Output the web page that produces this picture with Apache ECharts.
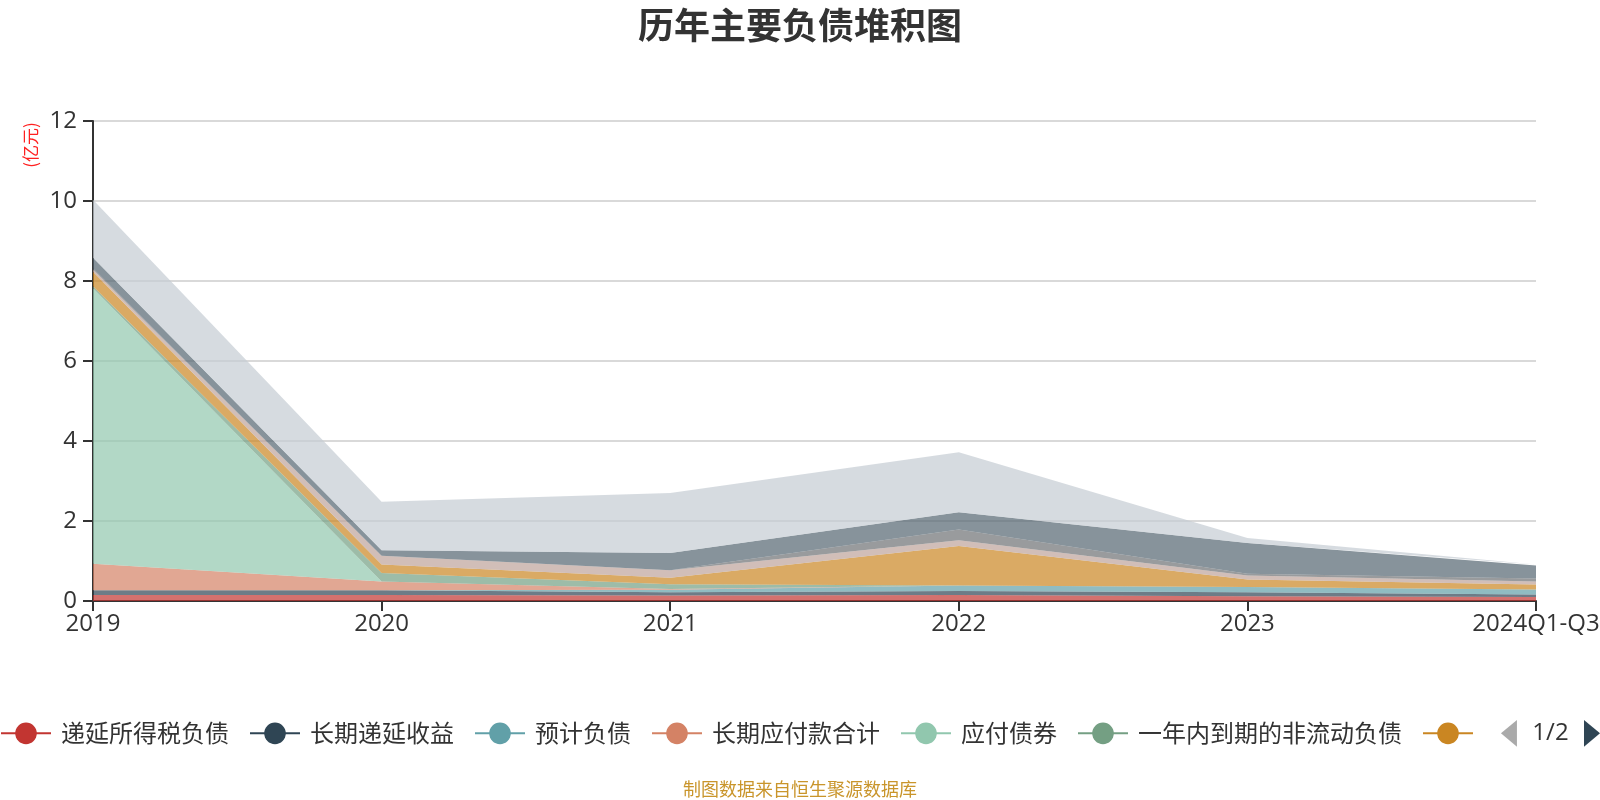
<!DOCTYPE html>
<html>
<head>
<meta charset="utf-8">
<script src="https://cdn.jsdelivr.net/npm/echarts@6/dist/echarts.min.js"></script>
<style>html,body{margin:0;padding:0;background:#fff}#chart{width:1600px;height:800px}</style>
</head>
<body>
<div id="chart"></div>
<script>
const categories = ['2019', '2020', '2021', '2022', '2023', '2024Q1-Q3'];
const seriesNames = ['递延所得税负债', '长期递延收益', '预计负债', '长期应付款合计', '应付债券', '一年内到期的非流动负债', '长期借款', '应交税费', '应付职工薪酬', '应付票据及应付账款', '短期借款'];
const deferredTax = [0.15, 0.15, 0.14, 0.15, 0.12, 0.10];
const deferredIncome = [0.12, 0.12, 0.08, 0.10, 0.10, 0.06];
const provisions = [0.00, 0.00, 0.06, 0.14, 0.13, 0.125];
const longTermPayables = [0.66, 0.22, 0.02, 0.00, 0.00, 0.00];
const bondsPayable = [6.89, 0.00, 0.00, 0.00, 0.00, 0.00];
const currentNonCurrent = [0.05, 0.21, 0.12, 0.00, 0.00, 0.00];
const longTermLoans = [0.36, 0.21, 0.16, 0.985, 0.185, 0.125];
const taxesPayable = [0.06, 0.22, 0.19, 0.145, 0.105, 0.08];
const payroll = [0.02, 0.00, 0.00, 0.27, 0.04, 0.07];
const accountsPayable = [0.27, 0.14, 0.43, 0.43, 0.77, 0.33];
const shortTermLoans = [1.45, 1.21, 1.50, 1.50, 0.125, 0.02];
const yTicks = [0, 2, 4, 6, 8, 10, 12];
const colors = ['#c23531', '#2f4554', '#61a0a8', '#d48265', '#91c7ae', '#749f83', '#ca8622', '#bda29a', '#6e7074', '#546570', '#c4ccd3'];
const seriesValues = [deferredTax, deferredIncome, provisions, longTermPayables, bondsPayable, currentNonCurrent, longTermLoans, taxesPayable, payroll, accountsPayable, shortTermLoans];

const FONT = '"Noto Sans CJK SC", "Noto Sans", sans-serif';
const NUMFONT = '"Open Sans", "Noto Sans CJK SC", sans-serif';
const chart = echarts.init(document.getElementById('chart'), null, {renderer: 'canvas'});
chart.setOption({
  color: colors,
  animation: false,
  textStyle: {fontFamily: FONT},
  title: [
    {text: '历年主要负债堆积图', left: 'center', top: 2,
     textStyle: {fontSize: 36, fontWeight: 'bold', color: '#333', fontFamily: FONT}},
    {text: '制图数据来自恒生聚源数据库', left: 'center', top: 775,
     textStyle: {fontSize: 18, fontWeight: 'normal', color: '#c9952b', fontFamily: FONT}}
  ],
  graphic: [{
    type: 'text', x: 31, y: 145, rotation: Math.PI / 2,
    style: {text: '(亿元)', fill: '#ff2020', font: '17px ' + FONT, align: 'center', verticalAlign: 'middle'}
  }],
  legend: {
    type: 'scroll', left: 0, right: 0, top: 720, padding: 0,
    itemWidth: 50, itemHeight: 27, itemGap: 20,
    textStyle: {fontSize: 24, color: '#333', fontFamily: FONT, padding: [0, 0, 0, 5]},
    lineStyle: {width: 2, opacity: 1},
    pageIconSize: [16, 28], pageButtonItemGap: 4, pageButtonGap: 20,
    pageIconColor: '#2f4554', pageIconInactiveColor: '#aaa',
    pageTextStyle: {fontSize: 24, color: '#333', fontFamily: NUMFONT},
    data: seriesNames
  },
  grid: {left: 93, right: 64, top: 121, bottom: 199, containLabel: false, outerBoundsMode: 'none'},
  xAxis: {
    type: 'category', boundaryGap: false, data: categories,
    axisLine: {lineStyle: {color: '#333', width: 2}},
    axisTick: {show: true, length: 10, lineStyle: {color: '#333', width: 2}},
    axisLabel: {fontSize: 24, color: '#333', margin: 11, fontFamily: NUMFONT},
    splitLine: {show: false}
  },
  yAxis: {
    type: 'value', min: yTicks[0], max: yTicks[yTicks.length - 1], interval: yTicks[1] - yTicks[0],
    axisLine: {show: true, lineStyle: {color: '#333', width: 2}},
    axisTick: {show: true, length: 10, lineStyle: {color: '#333', width: 2}},
    axisLabel: {fontSize: 24, color: '#333', margin: 16, fontFamily: NUMFONT},
    splitLine: {show: true, lineStyle: {color: '#ccc', width: 1.5}}
  },
  series: seriesNames.map((name, i) => ({
    name: name, type: 'line', stack: 'total', data: seriesValues[i],
    symbol: 'circle', showSymbol: false, smooth: false,
    lineStyle: {width: 0},
    areaStyle: {opacity: 0.7},
    emphasis: {disabled: true}
  }))
});
</script>
</body>
</html>
